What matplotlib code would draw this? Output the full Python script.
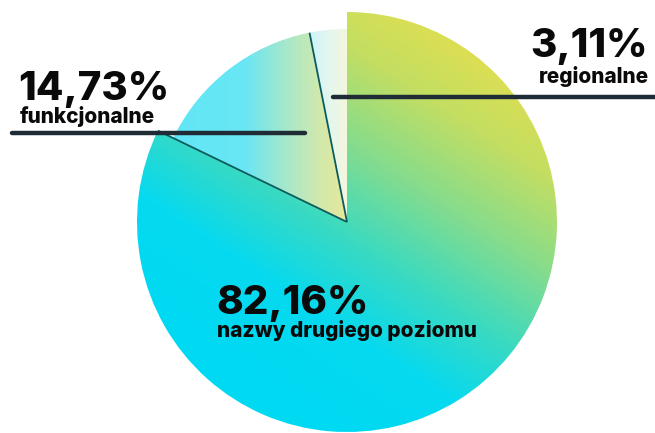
import matplotlib
matplotlib.use("Agg")
import matplotlib.pyplot as plt
import numpy as np
from matplotlib.colors import LinearSegmentedColormap

# dane
shares = [82.16, 14.73, 3.11]
pct_labels = ["82,16%", "14,73%", "3,11%"]
names = ["nazwy drugiego poziomu", "funkcjonalne", "regionalne"]

W, H = 655, 433
fig = plt.figure(figsize=(W / 100, H / 100), dpi=100)
ax = fig.add_axes([0, 0, 1, 1])

cx, cy = 347, 211
wedges, _ = ax.pie(shares, startangle=90, counterclock=False, center=(cx, cy),
                   radius=210, frame=True)
ax.set_xlim(0, W)
ax.set_ylim(0, H)
ax.set_aspect("auto")
ax.axis("off")

wedges[1].set_radius(193)
wedges[2].set_radius(193)

# gradienty
xx, yy = np.meshgrid(np.arange(W), np.arange(H))
ypix = H - yy  # wiersze od gory

big_cmap = LinearSegmentedColormap.from_list(
    "big", ["#e4df4e", "#c3de62", "#86dc8c", "#3cdac0", "#06d9ef", "#00d9f2"])
d = np.array([-0.55, 0.835])
t_big = ((xx - 470) * d[0] + (ypix - 30) * d[1]) / 400.0
mid_cmap = LinearSegmentedColormap.from_list(
    "mid", [(0, "#60e6f7"), (0.42, "#69e6f4"), (0.65, "#a6e8cb"),
            (0.85, "#d3e8aa"), (1, "#e8e89a")])
t_mid = (xx - 170) / 178.0
small_cmap = LinearSegmentedColormap.from_list(
    "small", ["#c5f4fb", "#e2f6f0", "#f6f6dc"])
t_small = (xx - 305) / 43.0

for w, cmap, t in [(wedges[0], big_cmap, t_big), (wedges[1], mid_cmap, t_mid),
                   (wedges[2], small_cmap, t_small)]:
    w.set_facecolor("none")
    w.set_edgecolor("none")
    im = ax.imshow(np.clip(t, 0, 1), cmap=cmap, vmin=0, vmax=1, origin="lower",
                   extent=(0, W, 0, H), interpolation="bilinear", zorder=1)
    im.set_clip_path(w)

ax.set_xlim(0, W)
ax.set_ylim(0, H)
ax.set_aspect("auto")

# ciemne krawedzie wycinkow
cum = np.cumsum([0] + shares)
for frac in cum[1:3]:
    ang = np.deg2rad(90 - 360 * frac / 100.0)
    r = 210 if frac == cum[1] else 193
    ax.plot([cx, cx + r * np.cos(ang)], [cy, cy + r * np.sin(ang)],
            color="#0b5c5e", lw=1.3, zorder=3, solid_capstyle="butt")

# linie odnosnikow
ax.plot([12, 305], [H - 133, H - 133], color="#1f2b35", lw=3.2,
        solid_capstyle="round", zorder=4)
ax.plot([333, 660], [H - 97, H - 97], color="#1f2b35", lw=3.2,
        solid_capstyle="round", zorder=4)

fam = ["Inter", "DejaVu Sans"]
big_fs, small_fs = 29, 15
ax.text(216, H - 314, pct_labels[0], fontsize=big_fs, fontweight="heavy",
        family=fam, color="#0a0a0a", va="baseline", ha="left", zorder=5)
ax.text(217, H - 337, names[0], fontsize=small_fs, fontweight="heavy",
        family=fam, color="#0a0a0a", va="baseline", ha="left", zorder=5)
ax.text(18, H - 100, pct_labels[1], fontsize=big_fs, fontweight="heavy",
        family=fam, color="#0a0a0a", va="baseline", ha="left", zorder=5)
ax.text(20, H - 123, names[1], fontsize=small_fs, fontweight="heavy",
        family=fam, color="#0a0a0a", va="baseline", ha="left", zorder=5)
ax.text(648, H - 57, pct_labels[2], fontsize=big_fs, fontweight="heavy",
        family=fam, color="#0a0a0a", va="baseline", ha="right", zorder=5)
ax.text(649, H - 83, names[2], fontsize=small_fs, fontweight="heavy",
        family=fam, color="#0a0a0a", va="baseline", ha="right", zorder=5)

fig.savefig("out.png", dpi=100)
